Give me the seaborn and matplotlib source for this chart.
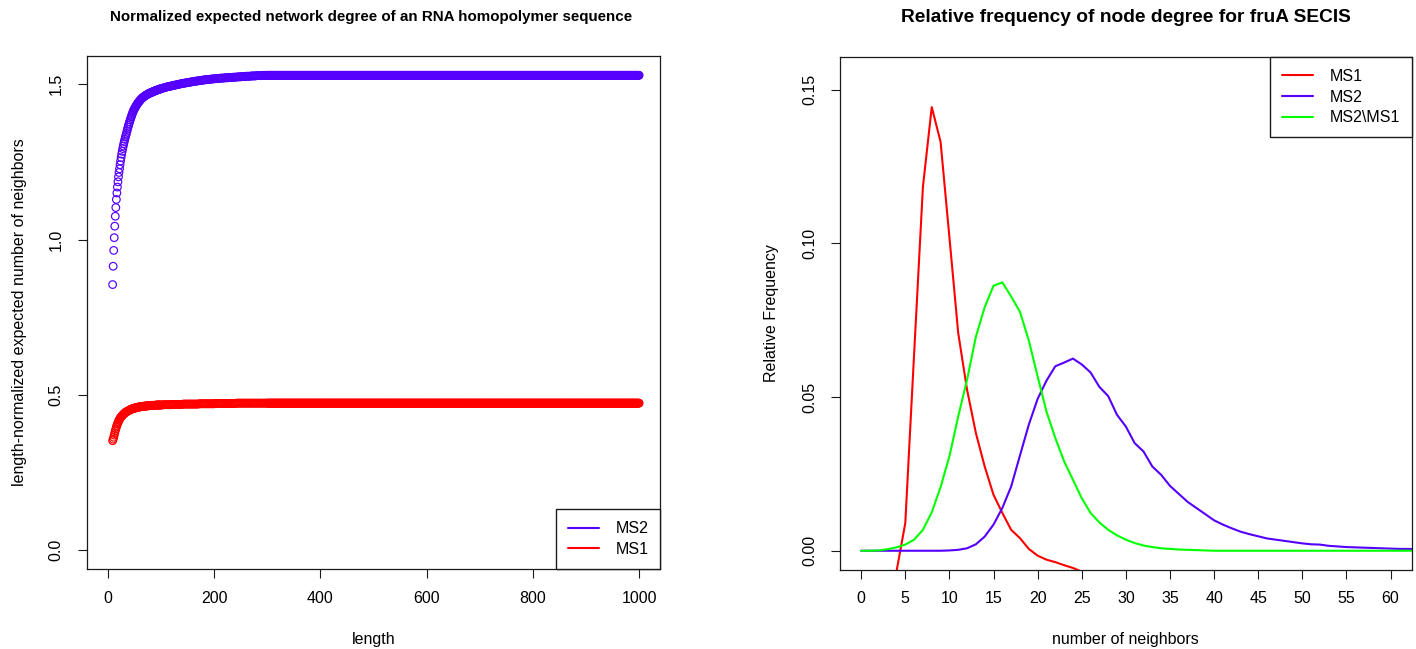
import numpy as np
import matplotlib
matplotlib.use("Agg")
import matplotlib.pyplot as plt
from matplotlib.lines import Line2D
import seaborn as sns

# colours of the two pipelines
BLUE = "#5500ff"
RED = "#ff0000"
GREEN = "#00ff00"

# ---- left panel: normalized expected degree vs. sequence length ----
# lengths 9..100, one point per length
len_a = np.arange(9, 101)
ms2_a = [0.855, 0.914, 0.965, 1.006, 1.043, 1.075, 1.103, 1.129, 1.150, 1.169,
         1.186, 1.202, 1.216, 1.228, 1.241, 1.253, 1.264, 1.275, 1.284, 1.293,
         1.301, 1.309, 1.316, 1.323, 1.330, 1.336, 1.342, 1.349, 1.356, 1.362,
         1.368, 1.374,
         1.379, 1.385, 1.390, 1.395, 1.400, 1.405, 1.410, 1.414, 1.418, 1.421,
         1.424, 1.427, 1.430, 1.433, 1.436, 1.438, 1.441, 1.443, 1.445, 1.447,
         1.449, 1.451, 1.453, 1.455, 1.456, 1.458, 1.459, 1.460, 1.462, 1.463,
         1.464, 1.465, 1.466, 1.467, 1.468, 1.469, 1.470, 1.471, 1.472, 1.472,
         1.473, 1.474, 1.475, 1.475, 1.476, 1.477, 1.478, 1.478, 1.479, 1.480,
         1.480, 1.481, 1.482, 1.482, 1.483, 1.484, 1.484, 1.485, 1.485, 1.486]
ms1_a = [0.352, 0.357, 0.363, 0.370, 0.377, 0.384, 0.390, 0.396, 0.401, 0.406,
         0.410, 0.414, 0.418, 0.421, 0.424, 0.427, 0.429, 0.431, 0.433, 0.435,
         0.437, 0.439, 0.440, 0.441, 0.443, 0.444, 0.445, 0.446, 0.447, 0.448,
         0.449, 0.450,
         0.451, 0.452, 0.452, 0.453, 0.454, 0.455, 0.455, 0.456, 0.456, 0.457,
         0.457, 0.458, 0.458, 0.459, 0.459, 0.460, 0.460, 0.460, 0.461, 0.461,
         0.461, 0.462, 0.462, 0.462, 0.462, 0.463, 0.463, 0.463, 0.463, 0.463,
         0.464, 0.464, 0.464, 0.464, 0.464, 0.465, 0.465, 0.465, 0.465, 0.465,
         0.465, 0.465, 0.466, 0.466, 0.466, 0.466, 0.466, 0.466, 0.466, 0.466,
         0.467, 0.467, 0.467, 0.467, 0.467, 0.467, 0.467, 0.467, 0.467, 0.467]

# lengths 102..300, every second length
len_b = np.arange(102, 301, 2)
ms2_b = [1.487, 1.488, 1.489, 1.490, 1.491, 1.492, 1.493, 1.493, 1.494, 1.495,
         1.496, 1.497, 1.497, 1.498, 1.499, 1.500, 1.500, 1.501, 1.502, 1.503,
         1.503, 1.504, 1.504, 1.505, 1.506, 1.506, 1.507, 1.507, 1.508, 1.509,
         1.509, 1.510, 1.510, 1.511, 1.511, 1.512, 1.512, 1.513, 1.513, 1.514,
         1.514, 1.515, 1.515, 1.515, 1.516, 1.516, 1.517, 1.517, 1.517, 1.518,
         1.518, 1.518, 1.519, 1.519, 1.519, 1.520, 1.520, 1.520, 1.520, 1.521,
         1.521, 1.521, 1.521, 1.522, 1.522, 1.522, 1.522, 1.523, 1.523, 1.523,
         1.523, 1.524, 1.524, 1.524, 1.524, 1.525, 1.525, 1.525, 1.525, 1.526,
         1.526, 1.526, 1.526, 1.526, 1.527, 1.527, 1.527, 1.527, 1.527, 1.528,
         1.528, 1.528, 1.528, 1.528, 1.528, 1.529, 1.529, 1.529, 1.529, 1.529]
ms1_b = [0.467, 0.468, 0.468, 0.468, 0.468, 0.468, 0.468, 0.468, 0.468, 0.468,
         0.469, 0.469, 0.469, 0.469, 0.469, 0.469, 0.469, 0.469, 0.469, 0.469,
         0.470, 0.470, 0.470, 0.470, 0.470, 0.470, 0.470, 0.470, 0.470, 0.470,
         0.470, 0.470, 0.470, 0.470, 0.470, 0.471, 0.471, 0.471, 0.471, 0.471,
         0.471, 0.471, 0.471, 0.471, 0.471, 0.471, 0.471, 0.471, 0.471, 0.471,
         0.472, 0.472, 0.472, 0.472, 0.472, 0.472, 0.472, 0.472, 0.472, 0.472,
         0.472, 0.472, 0.472, 0.472, 0.472, 0.472, 0.472, 0.472, 0.472, 0.472,
         0.473, 0.473, 0.473, 0.473, 0.473, 0.473, 0.473, 0.473, 0.473, 0.473,
         0.473, 0.473, 0.473, 0.473, 0.473, 0.473, 0.473, 0.473, 0.473, 0.473,
         0.473, 0.473, 0.473, 0.473, 0.473, 0.473, 0.473, 0.473, 0.473, 0.473]

# beyond 300 both curves stay flat up to length 1000
len_c = np.arange(301, 1001)
ms2_flat = 1.529
ms1_flat = 0.473

# ---- right panel: relative frequency of node degree (fruA SECIS) ----
deg = np.arange(0, 64)
ms1_deg = np.arange(4, 26)
ms1_freq = [-0.0068, 0.0090, 0.0640, 0.1184, 0.1443, 0.1330, 0.1020, 0.0708, 0.0524, 0.0383,
            0.0274, 0.0182, 0.0123, 0.0068, 0.0041, 0.0006, -0.0016, -0.0029, -0.0037, -0.0047,
            -0.0056, -0.0068]
ms2_freq = [0.0, 0.0, 0.0, 0.0, 0.0, 0.0, 0.0, 0.0, 0.0, 0.0,
            0.0001, 0.0003, 0.0008, 0.0021, 0.0046, 0.0085, 0.0139, 0.0209, 0.0310, 0.0410,
            0.0494, 0.0553, 0.0600, 0.0612, 0.0625, 0.0606, 0.0580, 0.0533, 0.0503, 0.0442,
            0.0404, 0.0350, 0.0323, 0.0274, 0.0247, 0.0211, 0.0185, 0.0159, 0.0139, 0.0119,
            0.0099, 0.0085, 0.0073, 0.0062, 0.0054, 0.0047, 0.0040, 0.0036, 0.0032, 0.0028,
            0.0024, 0.0021, 0.0020, 0.0016, 0.0014, 0.0012, 0.0011, 0.0010, 0.0009, 0.0008,
            0.0007, 0.0006, 0.0006, 0.0005]
diff_freq = [0.0, 0.0, 0.0001, 0.0005, 0.0011, 0.0020, 0.0036, 0.0068, 0.0125, 0.0207,
             0.0307, 0.0437, 0.0556, 0.0696, 0.0792, 0.0862, 0.0873, 0.0827, 0.0777, 0.0684,
             0.0567, 0.0453, 0.0367, 0.0291, 0.0231, 0.0171, 0.0123, 0.0092, 0.0068, 0.0050,
             0.0036, 0.0025, 0.0017, 0.0012, 0.0008, 0.0006, 0.0004, 0.0003, 0.0002, 0.0001,
             0.0, 0.0, 0.0, 0.0, 0.0, 0.0, 0.0, 0.0, 0.0, 0.0,
             0.0, 0.0, 0.0, 0.0, 0.0, 0.0, 0.0, 0.0, 0.0, 0.0,
             0.0, 0.0, 0.0, 0.0]

sns.set_theme(style="white")
plt.rcParams["font.family"] = ["Liberation Sans", "DejaVu Sans"]
plt.rcParams["axes.edgecolor"] = "#1a1a1a"
plt.rcParams["axes.linewidth"] = 0.9
plt.rcParams["text.color"] = "black"
plt.rcParams["axes.labelcolor"] = "black"
plt.rcParams["xtick.color"] = "black"
plt.rcParams["ytick.color"] = "black"

FS = 11.5
W, H = 1416, 649
fig = plt.figure(figsize=(W / 100, H / 100), dpi=100)
ax1 = fig.add_axes([86.6 / W, (H - 569) / H, 573.8 / W, 513 / H])
ax2 = fig.add_axes([840 / W, (H - 569.5) / H, 571.7 / W, 512.5 / H])

# left: open circles, one series per pipeline
left_series = [
    (ms2_a, ms2_b, ms2_flat, BLUE),
    (ms1_a, ms1_b, ms1_flat, RED),
]
for a, b, flat, col in left_series:
    x = np.concatenate([len_a, len_b, len_c])
    y = np.concatenate([a, b, np.full(len(len_c), flat)])
    sns.scatterplot(x=x, y=y, ax=ax1, marker="o", color=col, facecolor="none",
                    edgecolor=col, s=30, linewidth=0.85, legend=False)

ax1.set_xlim(-40, 1040)
ax1.set_ylim(-0.0612, 1.5912)
ax1.set_xticks([0, 200, 400, 600, 800, 1000])
ax1.set_yticks([0, 0.5, 1.0, 1.5])
ax1.set_yticklabels(["0.0", "0.5", "1.0", "1.5"])
ax1.set_xlabel("length", fontsize=FS)
ax1.set_ylabel("length-normalized expected number of neighbors", fontsize=FS)
ax1.yaxis.set_label_coords(-0.104, 0.5)

leg_kw = dict(borderaxespad=0, fancybox=False, framealpha=1, edgecolor="#1a1a1a",
              fontsize=FS, handlelength=1.9, labelspacing=0.35, borderpad=0.75,
              handletextpad=1.05)
ax1.legend(handles=[Line2D([], [], color=BLUE, lw=1.5, label="MS2"),
                    Line2D([], [], color=RED, lw=1.5, label="MS1")],
           loc="lower right", **leg_kw)

# right: lines
sns.lineplot(x=ms1_deg, y=ms1_freq, ax=ax2, color=RED, lw=1.5)
sns.lineplot(x=deg, y=ms2_freq, ax=ax2, color=BLUE, lw=1.5)
sns.lineplot(x=deg, y=diff_freq, ax=ax2, color=GREEN, lw=1.5)
ax2.set_xlim(-2.4, 62.4)
ax2.set_ylim(-0.0061, 0.1606)
ax2.set_xticks(np.arange(0, 61, 5))
ax2.set_yticks([0, 0.05, 0.10, 0.15])
ax2.set_yticklabels(["0.00", "0.05", "0.10", "0.15"])
ax2.set_xlabel("number of neighbors", fontsize=FS)
ax2.set_ylabel("Relative Frequency", fontsize=FS)
ax2.yaxis.set_label_coords(-0.1065, 0.5)
ax2.legend(handles=[Line2D([], [], color=RED, lw=1.5, label="MS1"),
                    Line2D([], [], color=BLUE, lw=1.5, label="MS2"),
                    Line2D([], [], color=GREEN, lw=1.5, label="MS2\\MS1")],
           loc="upper right", **leg_kw)

for ax in (ax1, ax2):
    for s in ax.spines.values():
        s.set_visible(True)
    ax.tick_params(axis="both", direction="out", length=6.5, width=0.8,
                   color="#1a1a1a", labelsize=FS, bottom=True, left=True)
    ax.tick_params(axis="x", pad=9)
    ax.tick_params(axis="y", pad=10, labelrotation=90)
    for lab in ax.get_yticklabels():
        lab.set_va("center")
    ax.xaxis.set_label_coords(0.5, -0.1365)
    ax.xaxis.label.set_va("center")

fig.text(371 / W, 1 - 17 / H, "Normalized expected network degree of an RNA homopolymer sequence",
         ha="center", va="center", fontsize=10.9, fontweight="bold")
fig.text(1126 / W, 1 - 18 / H, "Relative frequency of node degree for fruA SECIS",
         ha="center", va="center", fontsize=13.8, fontweight="bold")

fig.savefig("out.png", dpi=100)
